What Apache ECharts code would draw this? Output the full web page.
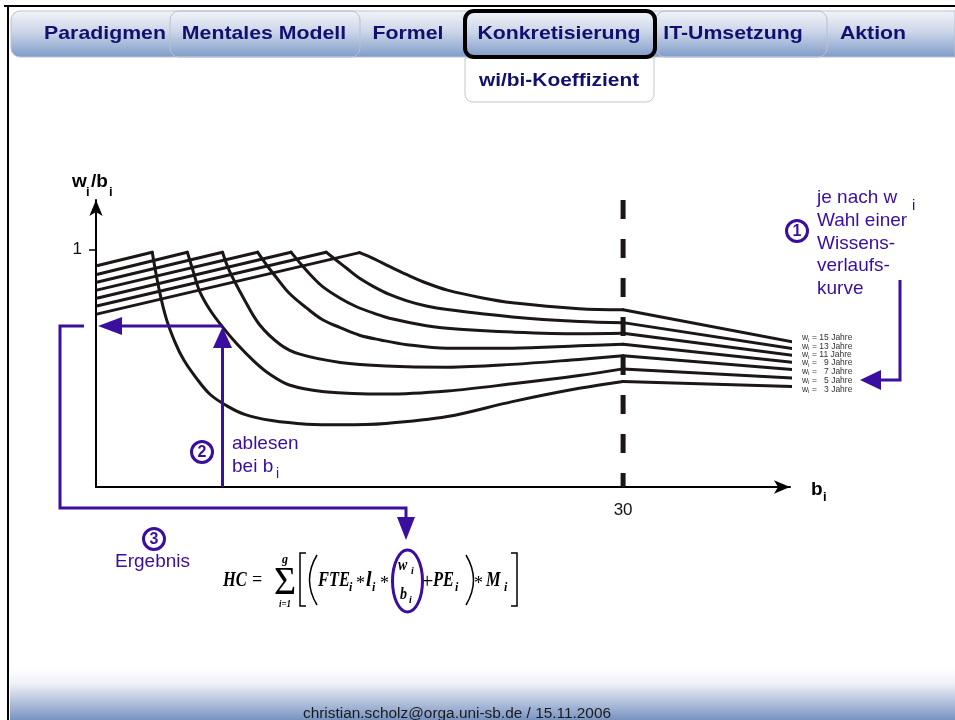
<!DOCTYPE html>
<html>
<head>
<meta charset="utf-8">
<title>wi/bi-Koeffizient</title>
<script src="https://cdn.jsdelivr.net/npm/echarts@6.0.0/dist/echarts.min.js"></script>
<style>
    html, body { margin: 0; padding: 0; background: #fff; }
    #main { width: 955px; height: 720px; }
</style>
</head>
<body>
<div id="main"></div>
<script>
// Wissensverlaufskurven je nach w_i (Jahre)
var wJahre = [3, 5, 7, 9, 11, 13, 15];
var kurvenText = ['15 Jahre', '13 Jahre', '11 Jahre', '  9 Jahre', '  7 Jahre', '  5 Jahre', '  3 Jahre'];
// Anstieg: Startwert bei b=0.1 bis Gipfel
var startB = 0.1;
var startWert = [0.934, 0.897, 0.864, 0.831, 0.797, 0.764, 0.730];
var gipfelB = [3.2, 5.2, 7.2, 9.2, 11.1, 13.1, 15.0];
var gipfelWert = [0.99, 0.99, 0.99, 0.99, 0.99, 0.99, 0.988];
// Abfall: vom Gipfel bis b=30
var abfall_w3 = [[3.2, 0.99], [3.6, 0.83], [4.0, 0.71], [4.5, 0.61], [5.0, 0.535], [5.7, 0.46], [6.5, 0.39], [7.5, 0.34], [8.5, 0.305], [10.0, 0.28], [12.0, 0.265], [14.0, 0.262], [16.5, 0.268], [20.0, 0.297], [23.7, 0.36], [27.5, 0.416], [30, 0.445]];
var abfall_w5 = [[5.2, 0.99], [5.55, 0.905], [5.9, 0.825], [6.5, 0.745], [7.2, 0.675], [8.0, 0.605], [9.0, 0.53], [9.9, 0.475], [11.0, 0.43], [13.0, 0.402], [16.5, 0.392], [20.0, 0.405], [23.7, 0.435], [27.5, 0.47], [30, 0.498]];
var abfall_w7 = [[7.2, 0.99], [7.6, 0.91], [8.4, 0.796], [9.3, 0.685], [10.5, 0.6], [11.6, 0.56], [13.9, 0.525], [16.5, 0.51], [20.0, 0.505], [23.7, 0.517], [27.5, 0.538], [30, 0.553]];
var abfall_w9 = [[9.2, 0.99], [9.7, 0.937], [10.3, 0.88], [11.0, 0.817], [12.0, 0.754], [12.9, 0.705], [13.9, 0.672], [15.0, 0.64], [16.2, 0.62], [17.7, 0.6], [20.0, 0.585], [23.7, 0.585], [27.5, 0.595], [30, 0.602]];
var abfall_w11 = [[11.1, 0.99], [11.6, 0.945], [12.2, 0.895], [12.9, 0.845], [13.9, 0.796], [14.8, 0.761], [15.8, 0.733], [16.9, 0.708], [18.8, 0.68], [20.7, 0.665], [23.7, 0.653], [27.5, 0.646], [30, 0.648]];
var abfall_w13 = [[13.1, 0.99], [13.7, 0.955], [14.3, 0.92], [15.0, 0.88], [15.8, 0.845], [16.7, 0.812], [17.7, 0.785], [18.8, 0.763], [20.0, 0.748], [23.7, 0.717], [27.5, 0.698], [30, 0.693]];
var abfall_w15 = [[15.0, 0.988], [15.8, 0.963], [16.7, 0.93], [17.7, 0.895], [18.8, 0.86], [20.0, 0.83], [22.0, 0.797], [23.7, 0.777], [27.5, 0.752], [30, 0.747]];
// Auslauf nach b=30
var endB = 39.85;
var endWert = [0.423, 0.459, 0.494, 0.524, 0.553, 0.581, 0.609];
// Achsen
var xTicks = [30];
var yTicks = [1];
var grenzeB = 30;

var abfall = [abfall_w3, abfall_w5, abfall_w7, abfall_w9, abfall_w11, abfall_w13, abfall_w15];

var LILA = '#3a0e9e';
var SCHWARZ = '#1c1616';
var NAVY = '#101070';

function kurve(daten, glatt) {
    return {
        type: 'line',
        data: daten,
        smooth: glatt ? 0.35 : false,
        symbol: 'none',
        clip: false,
        silent: true,
        animation: false,
        z: 3,
        lineStyle: {color: SCHWARZ, width: 3, cap: 'round', join: 'round'}
    };
}

var series = [];
for (var i = 0; i < wJahre.length; i++) {
    var ab = abfall[i];
    series.push(kurve([[startB, startWert[i]], [gipfelB[i], gipfelWert[i]]], false));
    series.push(kurve(ab, true));
    series.push(kurve([ab[ab.length - 1], [endB, endWert[i]]], false));
}
// gestrichelte Linie bei b = 30
series.push({
    type: 'line',
    data: [[grenzeB, 1.21], [grenzeB, 0]],
    symbol: 'none',
    silent: true,
    animation: false,
    z: 2,
    lineStyle: {color: SCHWARZ, width: 5, type: [19, 20]}
});

function txt(x, y, s, font, fill, align, extra) {
    var e = {
        type: 'text', x: x, y: y, z: 100, silent: true,
        style: {
            text: s, font: font, fill: fill,
            align: align || 'left', textAlign: align || 'left',
            verticalAlign: 'middle', textVerticalAlign: 'middle'
        }
    };
    if (extra) {
        for (var k in extra) e[k] = extra[k];
    }
    return e;
}
function linie(pts, farbe, breite) {
    return {type: 'polyline', z: 100, silent: true, shape: {points: pts},
        style: {stroke: farbe, lineWidth: breite, fill: null, lineJoin: 'miter'}};
}
function spitze(pts, farbe) {
    return {type: 'polygon', z: 100, silent: true, shape: {points: pts}, style: {fill: farbe}};
}
function kreisNr(cx, cy, n) {
    return [
        {type: 'circle', z: 100, silent: true, shape: {cx: cx, cy: cy, r: 10.5},
            style: {fill: '#fff', stroke: LILA, lineWidth: 3}},
        txt(cx, cy + 1, n, 'bold 16px "Liberation Sans"', LILA, 'center')
    ];
}

var SANS = '"Liberation Sans"';
var SERIF = '"Liberation Serif"';
var fBI = 'italic bold 20px ' + SERIF;
var fSub = 'italic bold 12px ' + SERIF;
var fP = '19px ' + SANS;
var eng = {scaleX: 0.82};

var elemente = [];
// Rahmen
elemente.push(linie([[4, 6], [955, 6]], '#000', 2));
elemente.push(linie([[8, 6], [8, 720]], '#000', 2));
// Navigationsleiste
var navVerlauf = new echarts.graphic.LinearGradient(0, 0, 0, 1, [
    {offset: 0, color: '#f3f5f9'}, {offset: 0.45, color: '#cbd6e8'}, {offset: 1, color: '#7f9bc9'}
]);
elemente.push({type: 'rect', z: 50, silent: true, shape: {x: 11, y: 11, width: 944, height: 46, r: [9, 0, 0, 9]},
    style: {fill: navVerlauf, stroke: '#b9c1cf', lineWidth: 1}});
elemente.push({type: 'rect', z: 51, silent: true, shape: {x: 170, y: 11, width: 190, height: 46, r: 9},
    style: {fill: null, stroke: '#b9c1cf', lineWidth: 1}});
elemente.push({type: 'rect', z: 51, silent: true, shape: {x: 656, y: 11, width: 171, height: 46, r: 9},
    style: {fill: null, stroke: '#b9c1cf', lineWidth: 1}});
elemente.push({type: 'rect', z: 52, silent: true, shape: {x: 465, y: 11, width: 190, height: 46, r: 9},
    style: {fill: null, stroke: '#000', lineWidth: 4}});
elemente.push({type: 'rect', z: 50, silent: true, shape: {x: 465, y: 58, width: 189, height: 44, r: [0, 0, 8, 8]},
    style: {fill: '#fff', stroke: '#c3c7cf', lineWidth: 1}});
var navTabs = [['Paradigmen', 105], ['Mentales Modell', 264], ['Formel', 408], ['Konkretisierung', 559], ['IT-Umsetzung', 733], ['Aktion', 873]];
navTabs.forEach(function (t) {
    elemente.push(txt(t[1], 34, t[0], 'bold 19px ' + SANS, NAVY, 'center', {scaleX: 1.12}));
});
elemente.push(txt(559, 81, 'wi/bi-Koeffizient', 'bold 19px ' + SANS, NAVY, 'center', {scaleX: 1.1}));
// Fusszeile
var fussVerlauf = new echarts.graphic.LinearGradient(0, 0, 0, 1, [
    {offset: 0, color: '#ffffff'}, {offset: 0.3, color: '#eef1f7'}, {offset: 1, color: '#7893c1'}
]);
elemente.push({type: 'rect', z: 50, silent: true, shape: {x: 10, y: 668, width: 945, height: 52},
    style: {fill: fussVerlauf}});
elemente.push(txt(457, 714, 'christian.scholz@orga.uni-sb.de / 15.11.2006', '14px ' + SANS, '#1a1a1a', 'center', {scaleX: 1.1}));

// Achsenbeschriftungen
elemente.push(txt(72, 182, 'w', 'bold 19px ' + SANS, '#000'));
elemente.push(txt(86, 192, 'i', 'bold 13px ' + SANS, '#000'));
elemente.push(txt(91, 182, '/b', 'bold 19px ' + SANS, '#000'));
elemente.push(txt(109, 192, 'i', 'bold 13px ' + SANS, '#000'));
elemente.push(txt(811, 490, 'b', 'bold 19px ' + SANS, '#000'));
elemente.push(txt(823, 497, 'i', 'bold 13px ' + SANS, '#000'));

// Kurvenbeschriftung rechts
var labelY = [338, 346.5, 355, 363, 371.5, 380.5, 389.5];
kurvenText.forEach(function (s, k) {
    elemente.push(txt(802, labelY[k], 'w', '8.5px ' + SANS, '#333'));
    elemente.push(txt(808, labelY[k] + 2, 'i', '6px ' + SANS, '#333'));
    elemente.push(txt(812, labelY[k], '= ' + s, '8.5px ' + SANS, '#333'));
});

// (1) Wahl der Kurve
elemente = elemente.concat(kreisNr(797, 231, '1'));
['je nach w', 'Wahl einer', 'Wissens-', 'verlaufs-', 'kurve'].forEach(function (s, k) {
    elemente.push(txt(817, 198 + k * 22.7, s, fP, LILA));
});
elemente.push(txt(912, 206, 'i', '15px ' + SANS, LILA));
elemente.push(linie([[900, 280], [900, 380], [878, 380]], LILA, 3));
elemente.push(spitze([[881, 370], [881, 390], [860, 380]], LILA));

// (2) ablesen
elemente = elemente.concat(kreisNr(202, 452, '2'));
elemente.push(txt(232, 444, 'ablesen', fP, LILA));
elemente.push(txt(232, 467, 'bei b', fP, LILA));
elemente.push(txt(276, 474, 'i', '14px ' + SANS, LILA));
elemente.push(linie([[222.5, 487], [222.5, 344]], LILA, 3));
elemente.push(spitze([[213, 348], [232, 348], [222.5, 327]], LILA));
elemente.push(linie([[222.5, 326], [120, 326]], LILA, 3));
elemente.push(spitze([[122, 317], [122, 335], [98, 326]], LILA));

// (3) Ergebnis
elemente = elemente.concat(kreisNr(154, 539, '3'));
elemente.push(txt(115, 562, 'Ergebnis', fP, LILA));
elemente.push(linie([[84, 326], [60, 326], [60, 508], [406, 508], [406, 520]], LILA, 3));
elemente.push(spitze([[397, 517], [415, 517], [406, 540]], LILA));

// Formel HC
elemente.push(txt(223, 581, 'HC', fBI, '#000', 'left', eng));
elemente.push(txt(252, 580, '=', '22px ' + SERIF, '#000', 'left', eng));
elemente.push(txt(285, 583, 'Σ', '40px ' + SERIF, '#000', 'center', {scaleX: 0.95}));
elemente.push(txt(285, 560, 'g', fSub, '#000', 'center'));
elemente.push(txt(285, 604, 'i=1', 'italic bold 11px ' + SERIF, '#000', 'center', eng));
elemente.push(linie([[306, 553], [300, 553], [300, 606], [306, 606]], '#000', 1.5));
elemente.push(linie([[511, 553], [517, 553], [517, 606], [511, 606]], '#000', 1.5));
elemente.push({type: 'bezierCurve', z: 100, silent: true, shape: {x1: 317, y1: 555, x2: 317, y2: 605, cpx1: 302, cpy1: 580},
    style: {stroke: '#000', lineWidth: 1.5, fill: null}});
elemente.push({type: 'bezierCurve', z: 100, silent: true, shape: {x1: 466, y1: 555, x2: 466, y2: 605, cpx1: 481, cpy1: 580},
    style: {stroke: '#000', lineWidth: 1.5, fill: null}});
elemente.push(txt(318, 581, 'FTE', fBI, '#000', 'left', eng));
elemente.push(txt(349, 588, 'i', fSub, '#000'));
elemente.push(txt(356, 584, '*', '18px ' + SERIF, '#000'));
elemente.push(txt(366, 581, 'l', fBI, '#000'));
elemente.push(txt(372, 588, 'i', fSub, '#000'));
elemente.push(txt(380, 584, '*', '18px ' + SERIF, '#000'));
elemente.push(txt(398, 566, 'w', 'italic bold 17px ' + SERIF, '#000', 'left', eng));
elemente.push(txt(411, 571, 'i', 'italic bold 10px ' + SERIF, '#000'));
elemente.push(txt(400, 595, 'b', 'italic bold 17px ' + SERIF, '#000', 'left', eng));
elemente.push(txt(409, 600, 'i', 'italic bold 10px ' + SERIF, '#000'));
elemente.push({type: 'ellipse', z: 101, silent: true, shape: {cx: 407.5, cy: 581, rx: 15, ry: 31},
    style: {fill: null, stroke: LILA, lineWidth: 3}});
elemente.push(txt(421, 582, '+', '22px ' + SERIF, '#000'));
elemente.push(txt(433, 581, 'PE', fBI, '#000', 'left', eng));
elemente.push(txt(455, 588, 'i', fSub, '#000'));
elemente.push(txt(474, 584, '*', '18px ' + SERIF, '#000'));
elemente.push(txt(486, 581, 'M', fBI, '#000', 'left', eng));
elemente.push(txt(504, 588, 'i', fSub, '#000'));

var chart = echarts.init(document.getElementById('main'), null, {renderer: 'canvas'});
var option = {
    backgroundColor: '#fff',
    animation: false,
    grid: {left: 96, right: 165, top: 200, bottom: 233, containLabel: false, outerBoundsMode: 'none'},
    xAxis: {
        type: 'value', min: 0, max: 39.5,
        splitLine: {show: false},
        axisLine: {show: true, onZero: false, symbol: ['none', 'arrow'], symbolSize: [10, 16],
            lineStyle: {color: '#000', width: 2}},
        axisTick: {show: false},
        axisLabel: {customValues: xTicks, margin: 15, color: '#111', fontSize: 17, fontFamily: 'Liberation Sans'}
    },
    yAxis: {
        type: 'value', min: 0, max: 1.21,
        splitLine: {show: false},
        axisLine: {show: true, onZero: false, symbol: ['none', 'arrow'], symbolSize: [10, 16],
            lineStyle: {color: '#000', width: 2}},
        axisTick: {show: true, customValues: yTicks, length: 7, lineStyle: {color: '#000', width: 1.5}},
        axisLabel: {customValues: yTicks, margin: 14, color: '#111', fontSize: 17, fontFamily: 'Liberation Sans'}
    },
    series: series,
    graphic: {elements: elemente}
};
chart.setOption(option);
</script>
</body>
</html>
